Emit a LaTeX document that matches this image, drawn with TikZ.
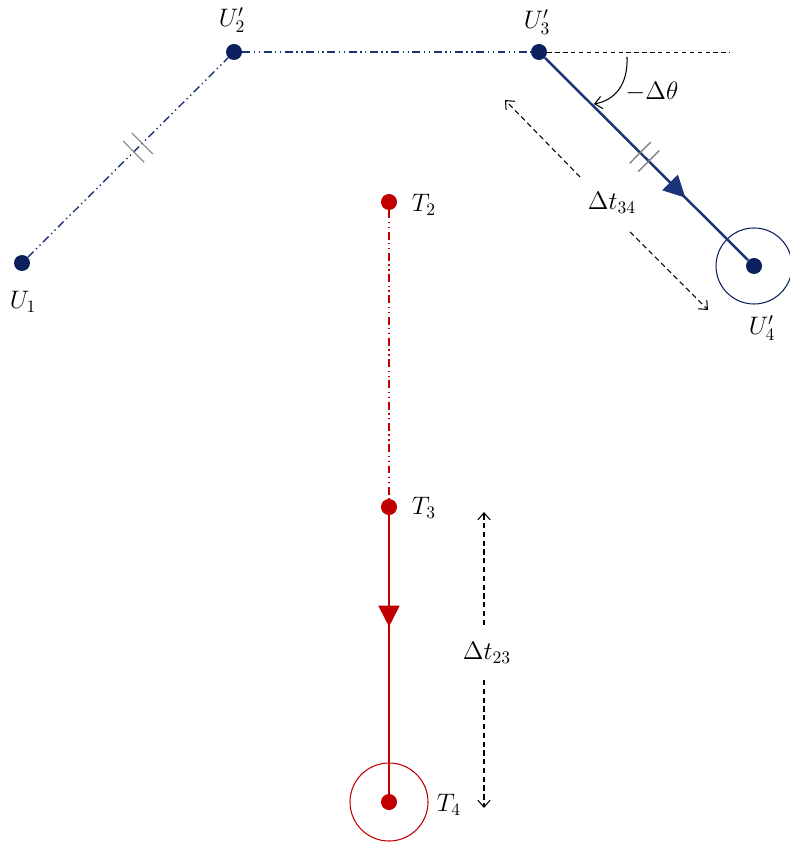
\documentclass[tikz,border=0pt]{standalone}
\usetikzlibrary{arrows.meta,decorations.markings}
\definecolor{ublue}{RGB}{12,32,94}
\definecolor{uline}{RGB}{28,52,120}
\definecolor{tred}{RGB}{192,0,0}
\begin{document}
\begin{tikzpicture}[
x=0.2mm, y=-0.2mm,
every node/.style={font=\fontsize{14}{16}\selectfont},
dot/.style={circle, fill, inner sep=0pt, minimum size=3.2mm},
ring/.style={circle, draw, line width=0.6pt, inner sep=0pt},
dashdots/.style={line width=0.8pt, dash pattern=on 4.5pt off 2pt on 0.8pt off 2pt on 0.8pt off 2pt},
gap/.style={black, line width=0.6pt, dash pattern=on 3pt off 2pt, -{Straight Barb[length=4pt,width=7pt]}},
midarrow/.style={postaction={decorate}, decoration={markings,
  mark=at position #1 with {\arrow{Triangle[width=12pt,length=12pt]}}}},
ticks/.style={postaction={decorate}, decoration={markings,
  mark=at position #1 with {\draw[gray, line width=0.6pt, solid]
    (-1.2mm,-3mm) -- (-1.2mm,3mm) (1.2mm,-3mm) -- (1.2mm,3mm);}}}
]
\useasboundingbox (0,0) rectangle (789,846);

\node[dot, ublue] (U1) at (22,263) {};
\node[dot, ublue] (U2) at (234,52) {};
\node[dot, ublue] (U3) at (539,52) {};
\node[dot, ublue] (U4) at (754,266) {};
\node[ring, ublue, minimum size=15.2mm] (R4) at (754,266) {};

\node[dot, tred] (T2) at (389,202) {};
\node[dot, tred] (T3) at (389,507) {};
\node[dot, tred] (T4) at (389,802) {};
\node[ring, tred, minimum size=15.6mm] (R5) at (389,802) {};

\node (lU1) at (23,302) {$U_1$};
\node (lU2) at (232,20) {$U_2'$};
\node (lU3) at (537,22) {$U_3'$};
\node (lU4) at (762,328) {$U_4'$};
\node (lT2) at (424,205) {$T_2$};
\node (lT3) at (424,508) {$T_3$};
\node (lT4) at (449,805) {$T_4$};
\node (dth) at (652,92) {$-\Delta\theta$};
\node (d34) at (612,203) {$\Delta t_{34}$};
\node (d23) at (487,653) {$\Delta t_{23}$};

\draw[uline, dashdots, ticks=0.55] (U1) -- (U2);
\draw[uline, dashdots] (U2) -- (U3);
\draw[uline, line width=1.4pt, ticks=0.49, midarrow=0.69] (U3) -- (U4);
\draw[tred, dashdots] (T2) -- (T3);
\draw[tred, line width=1.1pt, midarrow=0.4] (T3) -- (T4);

\coordinate (h) at (730,52);
\draw[line width=0.5pt, dash pattern=on 2.5pt off 2pt] (U3) -- (h);

\coordinate (a1) at (627,57);
\coordinate (a2) at (594,104);
\draw[line width=0.6pt, -{Straight Barb[length=4pt,width=7pt]}] (a1) .. controls (628,85) and (615,100) .. (a2);

\coordinate (p1) at (580,177);
\coordinate (p2) at (505,100);
\coordinate (p3) at (630,232);
\coordinate (p4) at (708,310);
\draw[gap] (p1) -- (p2);
\draw[gap] (p3) -- (p4);

\coordinate (q1) at (484,625);
\coordinate (q2) at (484,512);
\coordinate (q3) at (484,680);
\coordinate (q4) at (484,808);
\draw[gap] (q1) -- (q2);
\draw[gap] (q3) -- (q4);
\end{tikzpicture}
\end{document}
